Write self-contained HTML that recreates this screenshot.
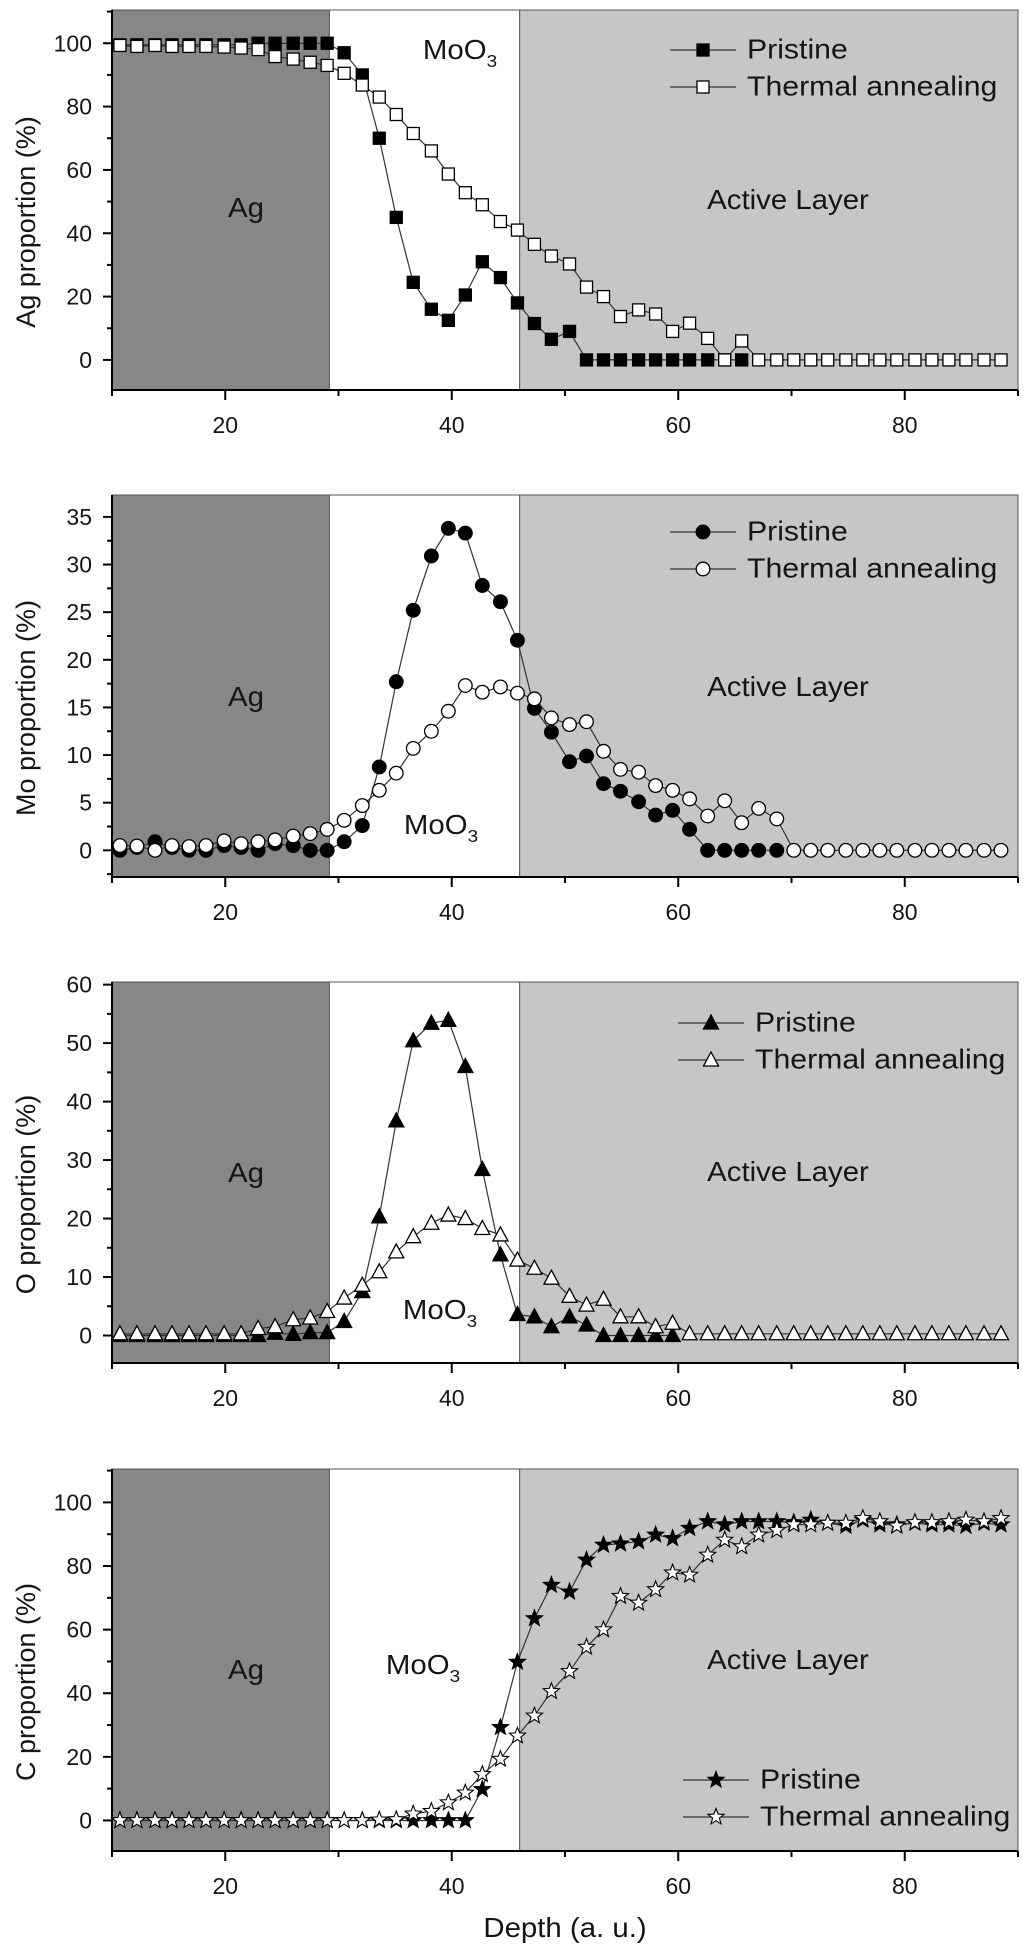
<!DOCTYPE html>
<html><head><meta charset="utf-8"><style>
html,body{margin:0;padding:0;background:#fff;}
svg{display:block;}
text{font-family:"Liberation Sans",Arial,sans-serif;fill:#151515;}
</style></head>
<body>
<svg id="chart" width="1024" height="1957" viewBox="0 0 1024 1957" xmlns="http://www.w3.org/2000/svg"></svg>
<script>
const depth = [10.7,12.2,13.8,15.3,16.8,18.3,19.9,21.4,22.9,24.4,26.0,27.5,29.0,30.5,32.1,33.6,35.1,36.6,38.2,39.7,41.2,42.7,44.3,45.8,47.3,48.8,50.4,51.9,53.4,54.9,56.5,58.0,59.5,61.0,62.6,64.1,65.6,67.1,68.7,70.2,71.7,73.2,74.8,76.3,77.8,79.3,80.9,82.4,83.9,85.4,87.0,88.5];
const agPristine = [99.5,99.5,99.5,99.5,99.5,99.5,99.5,99.5,100,100,100,100,100,97,90,70,45,24.5,16,12.5,20.5,31,26,18,11.5,6.5,9,0,0,0,0,0,0,0,0,0,0];
const agThermal = [99.3,99,99.3,99,99,99,98.8,98.5,98,95.8,95,94,93,90.5,86.8,83,77.5,71.5,66,58.7,52.8,49,43.7,41,36.5,32.8,30.3,23,20,13.7,15.8,14.5,9,11.6,6.8,0,6,0,0,0,0,0,0,0,0,0,0,0,0,0,0,0];
const moPristine = [0,0.3,0.9,0.3,0,0,0.5,0.3,0,0.7,0.5,0,0,0.9,2.6,8.75,17.7,25.2,30.9,33.8,33.3,27.8,26.1,22.05,14.9,12.4,9.3,9.9,7,6.2,5.1,3.7,4.2,2.2,0,0,0,0,0];
const moThermal = [0.5,0.45,0,0.5,0.4,0.5,1.0,0.7,0.9,1.1,1.5,1.75,2.2,3.15,4.7,6.3,8.1,10.7,12.5,14.6,17.3,16.6,17.15,16.5,15.9,13.9,13.2,13.5,10.4,8.5,8.2,6.8,6.3,5.4,3.6,5.2,2.9,4.4,3.3,0,0,0,0,0,0,0,0,0,0,0,0,0];
const oPristine = [0,0,0,0,0,0,0,0,0,0.4,0.2,0.5,0.5,2.4,7.5,20.3,36.7,50.4,53.4,53.9,46,28.4,13.8,3.6,3.2,1.5,3.2,1.8,0,0,0,0,0];
const oThermal = [0.3,0.3,0.3,0.3,0.3,0.3,0.3,0.3,1.2,1.5,2.7,3.0,4.1,6.4,8.6,10.9,14.3,16.9,19.2,20.6,20.0,18.3,17.2,12.9,11.5,9.8,6.7,5.2,6.2,3.2,3.2,1.5,2.1,0.3,0.3,0.3,0.3,0.3,0.3,0.3,0.3,0.3,0.3,0.3,0.3,0.3,0.3,0.3,0.3,0.3,0.3,0.3];
const cPristine = [0,0,0,0,0,0,0,0,0,0,0,0,0,0,0,0,0,0,0,0,0,9.8,29.3,49.8,63.5,74,71.9,81.9,86.6,87,87.7,89.8,88.7,91.9,94,93,94,94,94,93.7,94.5,93.5,92.6,94.5,93,93,93.5,93,93,92.6,93.5,93];
const cThermal = [0,0,0,0,0,0,0,0,0,0,0,0,0,0,0,0.2,0.3,2.1,2.9,5.6,8.7,14.5,19.3,26.6,32.9,40.6,46.9,54.5,60,70.5,68.4,72.6,77.9,77.2,83.5,88.2,86.1,89.8,91.2,93,93,93.5,93.5,95,94,92.6,93.7,93.7,94,94.5,94,95];
const xTicksMajor = [20,40,60,80];
const xTicksMinor = [10,30,50,70,90];
const agTicks = [0,20,40,60,80,100];
const moTicks = [0,5,10,15,20,25,30,35];
const oTicks = [0,10,20,30,40,50,60];
const cTicks = [0,20,40,60,80,100];
const seriesNames = ["Pristine","Thermal annealing"];
const regionBounds = [10,29.2,46.0,90];

const NS="http://www.w3.org/2000/svg";
const svg=document.getElementById('chart');
const X0=112,X1=1018,D0=10,D1=90;
function xs(d){return X0+(d-D0)/(D1-D0)*(X1-X0);}
function mk(tag,attrs,parent){const e=document.createElementNS(NS,tag);for(const k in attrs)e.setAttribute(k,attrs[k]);(parent||svg).appendChild(e);return e;}
function txt(parent,x,y,s,size,anchor,sx){
  const g=mk('g',{transform:`translate(${x},${y}) scale(${sx||1},1)`},parent);
  const t=mk('text',{x:0,y:0,'font-size':size,'text-anchor':anchor||'middle','dominant-baseline':'central'},g);
  t.textContent=s;return t;
}
function marker(g,type,filled,x,y){
  const fill=filled?'#000':'#fff';let e;
  if(type==='square'){e=mk('rect',{x:x-6,y:y-6,width:12,height:12,fill:fill,stroke:'#000','stroke-width':1.3},g);}
  else if(type==='circle'){e=mk('circle',{cx:x,cy:y,r:6.8,fill:fill,stroke:'#000','stroke-width':1.3},g);}
  else if(type==='triangle'){e=mk('polygon',{points:`${x},${y-8} ${x+7.5},${y+6} ${x-7.5},${y+6}`,fill:fill,stroke:'#000','stroke-width':1.3},g);}
  else {let p=[];for(let i=0;i<10;i++){const r=i%2?3.6:8.5;const a=-Math.PI/2+i*Math.PI/5;p.push((x+r*Math.cos(a)).toFixed(1)+','+(y+r*Math.sin(a)).toFixed(1));}
    e=mk('polygon',{points:p.join(' '),fill:fill,stroke:'#000','stroke-width':1.1},g);}
  return e;
}
function panel(cfg){
  const g=mk('g',{});
  
  
  const ys=v=>cfg.y1-(v-cfg.v0)/(cfg.v1-cfg.v0)*(cfg.y1-cfg.y0);
  const cols=['#878787','#ffffff','#c6c6c6'];const rn=['ag-region','moo3-region','active-layer-region'];
  for(let i=0;i<3;i++){const r=mk('rect',{x:xs(regionBounds[i]),y:cfg.y0,width:xs(regionBounds[i+1])-xs(regionBounds[i]),height:cfg.y1-cfg.y0,fill:cols[i],stroke:'#555','stroke-width':1},g);
    }
  let t=txt(g,246,cfg.agY,'Ag',28,'middle',1.05);
  t=txt(g,788,cfg.actY,'Active Layer',28,'middle',1.05);
  const mg=mk('g',{transform:`translate(${cfg.moX},${cfg.moY}) scale(1.05,1)`},g);
  const mt=mk('text',{x:0,y:0,'font-size':28,'text-anchor':'middle','dominant-baseline':'central'},mg);
  
  mt.appendChild(document.createTextNode('MoO'));const sub=mk('tspan',{'font-size':18,dy:10},mt);sub.textContent='3';
  mk('line',{x1:X0,y1:cfg.y0,x2:X0,y2:cfg.y1,stroke:'#000','stroke-width':2},g);
  mk('line',{x1:X0,y1:cfg.y1,x2:X1,y2:cfg.y1,stroke:'#000','stroke-width':2},g);
  cfg.ticks.forEach((v,i)=>{const y=ys(v);mk('line',{x1:X0-9,y1:y,x2:X0,y2:y,stroke:'#000','stroke-width':2},g);
    const tl=txt(g,92,y,String(v),23,'end',1);
    if(i<cfg.ticks.length-1){const ym=ys((v+cfg.ticks[i+1])/2);mk('line',{x1:X0-5,y1:ym,x2:X0,y2:ym,stroke:'#000','stroke-width':2},g);}});
  {const ym=ys(cfg.ticks[0]-(cfg.ticks[1]-cfg.ticks[0])/2);if(ym<cfg.y1)mk('line',{x1:X0-5,y1:ym,x2:X0,y2:ym,stroke:'#000','stroke-width':2},g);
   const yt=ys(cfg.ticks[cfg.ticks.length-1]+(cfg.ticks[1]-cfg.ticks[0])/2);if(yt>cfg.y0-1)mk('line',{x1:X0-5,y1:yt,x2:X0,y2:yt,stroke:'#000','stroke-width':2},g);}
  xTicksMajor.forEach(d=>{mk('line',{x1:xs(d),y1:cfg.y1,x2:xs(d),y2:cfg.y1+10,stroke:'#000','stroke-width':2},g);
    const tl=txt(g,xs(d),cfg.y1+35,String(d),23,'middle',1);});
  xTicksMinor.forEach(d=>mk('line',{x1:xs(d),y1:cfg.y1,x2:xs(d),y2:cfg.y1+6,stroke:'#000','stroke-width':2},g));
  const yt=mk('text',{transform:`translate(26,${(cfg.y0+cfg.y1)/2+22}) rotate(-90)`,'font-size':27,'text-anchor':'middle','dominant-baseline':'central'},g);
  yt.textContent=cfg.title;
  [[cfg.p,true],[cfg.t,false]].forEach((s,si)=>{
    const sg=mk('g',{},g);
    
    
    const pts=s[0].map((v,i)=>xs(depth[i]).toFixed(1)+','+ys(v).toFixed(1));
    mk('polyline',{points:pts.join(' '),fill:'none',stroke:'#333','stroke-width':1.2},sg);
    s[0].forEach((v,i)=>{const m=marker(sg,cfg.m,s[1],xs(depth[i]),ys(v));
      
      });
  });
  const lg=mk('g',{},g);
  [0,1].forEach(i=>{const y=cfg.legY+i*37;
    mk('line',{x1:cfg.legX,y1:y,x2:cfg.legX+66,y2:y,stroke:'#333','stroke-width':1.2},lg);
    marker(lg,cfg.m,i===0,cfg.legX+33,y);
    const lt=txt(lg,cfg.legX+77,y,seriesNames[i],28,'start',1.08);
    });
}
panel({name:'ag',y0:10,y1:390,v0:-9.5,v1:110.5,ticks:agTicks,title:'Ag proportion (%)',p:agPristine,t:agThermal,m:'square',agY:208,actY:200,moX:460,moY:50,legX:670,legY:50});
panel({name:'mo',y0:495,y1:877,v0:-2.8,v1:37.3,ticks:moTicks,title:'Mo proportion (%)',p:moPristine,t:moThermal,m:'circle',agY:697,actY:687,moX:441,moY:825,legX:670,legY:532});
panel({name:'o',y0:982,y1:1363,v0:-4.7,v1:60.45,ticks:oTicks,title:'O proportion (%)',p:oPristine,t:oThermal,m:'triangle',agY:1173,actY:1172,moX:440,moY:1310,legX:678,legY:1023});
panel({name:'c',y0:1469,y1:1851,v0:-9.6,v1:110.5,ticks:cTicks,title:'C proportion (%)',p:cPristine,t:cThermal,m:'star',agY:1670,actY:1660,moX:423,moY:1665,legX:683,legY:1780});
const xt=txt(svg,565,1928,'Depth (a. u.)',28,'middle',1.05);


</script>
</body></html>
